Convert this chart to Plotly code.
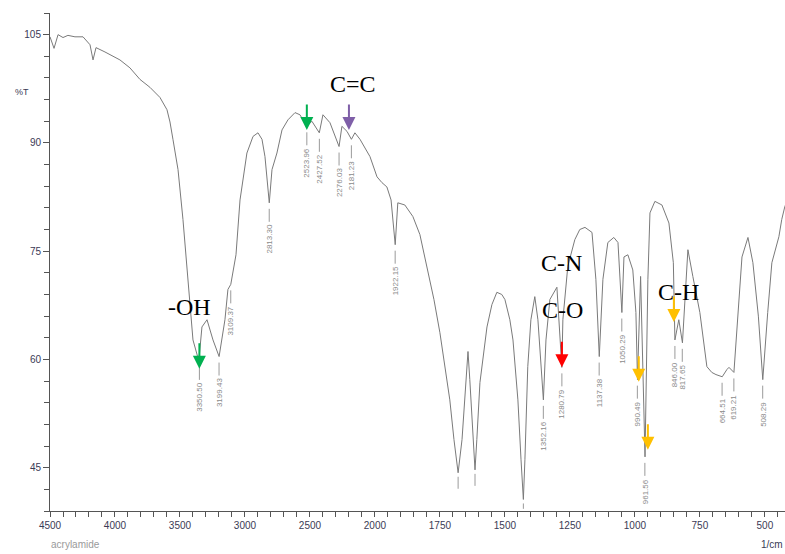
import numpy as np
import plotly.graph_objects as go

# ---------------- data ----------------
wavenumber = [4500, 4469, 4438, 4400, 4362, 4308, 4246, 4192, 4169, 4146, 4077, 3962, 3885, 3808,
              3731, 3654, 3600, 3577, 3554, 3515, 3477, 3446, 3423, 3400, 3355, 3331, 3292, 3246,
              3199, 3154, 3131, 3109, 3069, 3038, 2985, 2938, 2900, 2869, 2846, 2813, 2792, 2754,
              2715, 2669, 2615, 2577, 2524, 2485, 2428, 2400, 2346, 2276, 2254, 2215, 2181, 2154,
              2115, 2038, 1992, 1973, 1954, 1938, 1922, 1912, 1885, 1854, 1827, 1800, 1773, 1750,
              1731, 1712, 1696, 1680, 1665, 1654, 1642, 1635, 1627, 1615, 1608, 1596, 1569, 1550,
              1531, 1512, 1500, 1481, 1469, 1450, 1438, 1429, 1423, 1412, 1400, 1385, 1373, 1352,
              1342, 1327, 1300, 1292, 1281, 1277, 1258, 1231, 1212, 1192, 1165, 1150, 1137, 1123,
              1104, 1081, 1065, 1050, 1042, 1027, 1008, 996, 990, 978, 961, 950, 942, 923, 896,
              869, 852, 846, 831, 817, 796, 777, 750, 723, 704, 688, 664, 646, 638, 619, 604, 588,
              565, 546, 525, 508, 489, 473, 446, 435, 423, 412]
transmittance = [104.7, 103.1, 105.0, 104.6, 104.9, 104.7, 104.7, 103.6, 101.5, 103.2, 102.6, 101.5,
                 100.4, 98.8, 97.7, 96.3, 94.6, 92.9, 90.5, 86.3, 79.4, 72.4, 66.9, 62.7, 59.8,
                 64.5, 65.5, 62.7, 60.4, 65.5, 69.7, 70.4, 74.5, 82.1, 88.6, 90.9, 91.4, 90.5,
                 88.1, 81.7, 86.3, 88.6, 91.8, 93.2, 94.2, 93.9, 92.3, 93.0, 91.4, 93.9, 92.8,
                 89.5, 92.3, 91.6, 90.5, 91.4, 90.5, 88.1, 85.3, 84.5, 83.9, 82.1, 75.9, 81.7,
                 81.4, 79.8, 77.3, 72.9, 68.3, 63.7, 59.3, 54.4, 48.9, 44.3, 48.9, 54.4, 61.1,
                 57.2, 52.1, 44.7, 48.9, 56.8, 64.5, 67.6, 69.3, 69.0, 68.3, 65.5, 62.7, 54.4,
                 46.1, 40.6, 46.1, 59.0, 65.5, 68.7, 65.5, 54.4, 62.7, 68.3, 70.0, 65.5, 58.9,
                 65.5, 72.9, 76.6, 78.0, 78.3, 77.6, 71.1, 60.4, 71.1, 76.2, 76.9, 76.2, 66.5,
                 74.2, 74.5, 72.4, 66.5, 57.2, 71.5, 46.5, 71.1, 80.3, 81.9, 81.4, 78.9, 73.4,
                 62.7, 65.5, 62.3, 75.2, 71.5, 66.5, 59.0, 58.2, 57.9, 57.6, 58.6, 58.9, 58.2,
                 65.5, 74.2, 76.9, 73.4, 66.0, 57.2, 66.5, 73.4, 77.0, 79.4, 81.2, 82.1]

peak_wn = [3350.50, 3199.43, 3109.37, 2813.30, 2523.96, 2427.52, 2276.03, 2181.23, 1922.15,
           1352.16, 1280.79, 1137.38, 1050.29, 990.49, 961.56, 846.00, 817.65, 664.51, 619.21, 508.29]
peak_T = [59.8, 60.4, 70.4, 81.7, 92.3, 91.4, 89.5, 90.5, 75.9,
          54.4, 58.9, 60.4, 66.5, 57.2, 46.5, 62.7, 62.3, 57.6, 58.2, 57.2]
peak_text = ["3350.50", "3199.43", "3109.37", "2813.30", "2523.96", "2427.52", "2276.03",
             "2181.23", "1922.15", "1352.16", "1280.79", "1137.38", "1050.29", "990.49",
             "961.56", "846.00", "817.65", "664.51", "619.21", "508.29"]
clipped_peak_wn = [1680, 1615, 1429]
clipped_peak_T = [44.3, 44.7, 40.6]

group_labels = ["-OH", "C=C", "C-N", "C-O", "C-H"]
group_wn = [3423, 2169, 1281, 1277, 834]
group_T = [67.2, 98.1, 73.4, 66.9, 69.4]

arrow_wn = [3350.50, 2523.96, 2200, 1280.79, 985, 950, 850]
arrow_T = [58.7, 91.8, 91.8, 58.9, 56.9, 47.5, 65.2]
arrow_color = ["#00b050", "#00b050", "#7f5fa8", "#ff0000", "#ffc000", "#ffc000", "#ffc000"]

x_tick_labels = [4500, 4000, 3500, 3000, 2500, 2000, 1750, 1500, 1250, 1000, 750, 500]
y_tick_vals = [45, 60, 75, 90, 105]


def to_u(wn):
    wn = np.asarray(wn, dtype=float)
    return np.where(wn >= 2000, (4500 - wn) / 500.0, 5 + (2000 - wn) / 250.0)


# ---------------- layout constants ----------------
W, H = 785, 554
ML, MR, MT, MB = 50, 0, 13, 43
YMIN, YMAX = 39, 108
XMAX_U = 11.31
PW, PH = W - ML - MR, H - MT - MB
ppu = PH / (YMAX - YMIN)  # px per %T unit

fig = go.Figure()
fig.add_trace(go.Scatter(x=to_u(wavenumber), y=transmittance, mode="lines",
                         line=dict(color="#7a7a7a", width=1), hoverinfo="skip",
                         showlegend=False))

shapes = []
annotations = []
lbl_color = "#8a8a8a"
gap, seg = 6, 13
for wn, t, txt in zip(peak_wn, peak_T, peak_text):
    u = float(to_u(wn))
    shapes.append(dict(type="line", xref="x", yref="y", x0=u, x1=u,
                       y0=t - gap / ppu, y1=t - (gap + seg) / ppu,
                       line=dict(color="#9a9a9a", width=1)))
    annotations.append(dict(x=u, y=t - (gap + seg + 1) / ppu, xref="x", yref="y",
                            text=txt, showarrow=False, textangle=-90,
                            xanchor="center", yanchor="top",
                            font=dict(size=8, color=lbl_color, family="Liberation Sans")))
for wn, t in zip(clipped_peak_wn, clipped_peak_T):
    u = float(to_u(wn))
    shapes.append(dict(type="line", xref="x", yref="y", x0=u, x1=u,
                       y0=t - 4 / ppu, y1=max(YMIN + 0.3, t - 16 / ppu),
                       line=dict(color="#9a9a9a", width=1)))

for lab, wn, t in zip(group_labels, group_wn, group_T):
    annotations.append(dict(x=float(to_u(wn)), y=t, xref="x", yref="y", text=lab,
                            showarrow=False, xanchor="center", yanchor="middle",
                            font=dict(size=24, color="black", family="Liberation Serif")))

for wn, t, c in zip(arrow_wn, arrow_T, arrow_color):
    annotations.append(dict(x=float(to_u(wn)), y=t, xref="x", yref="y", text="",
                            showarrow=True, ax=0, ay=-27, arrowcolor=c, arrowwidth=2,
                            arrowhead=2, arrowsize=1.3))

annotations.append(dict(x=-28 / PW, y=97.1, xref="paper", yref="y", text="%T",
                        showarrow=False, xanchor="center", yanchor="middle",
                        font=dict(size=9, color="#3a3a55", family="Liberation Sans")))
annotations.append(dict(x=25 / PW, y=-33 / PH, xref="paper", yref="paper",
                        text="acrylamide", showarrow=False, xanchor="center", yanchor="middle",
                        font=dict(size=10, color="#9a9a9a", family="Liberation Sans")))
annotations.append(dict(x=1.0, y=-33 / PH, xref="paper", yref="paper",
                        text="1/cm", showarrow=False, xanchor="right", yanchor="middle",
                        font=dict(size=10, color="#3a3a55", family="Liberation Sans")))

fig.update_layout(
    width=W, height=H,
    margin=dict(l=ML, r=MR, t=MT, b=MB),
    paper_bgcolor="white", plot_bgcolor="white",
    shapes=shapes, annotations=annotations,
    xaxis=dict(range=[0, XMAX_U], showgrid=False, zeroline=False,
               showline=True, linecolor="#555555", linewidth=1,
               tickmode="array", tickvals=list(to_u(x_tick_labels)),
               ticktext=[str(v) for v in x_tick_labels],
               ticks="outside", ticklen=5, tickcolor="#555555",
               tickfont=dict(size=10, color="#3a3a55", family="Liberation Sans"),
               minor=dict(dtick=0.2, tick0=0, ticks="outside", ticklen=5,
                          tickcolor="#555555", showgrid=False)),
    yaxis=dict(range=[YMIN, YMAX], showgrid=False, zeroline=False,
               showline=True, linecolor="#555555", linewidth=1,
               tickmode="array", tickvals=y_tick_vals,
               ticks="outside", ticklen=6, tickcolor="#555555",
               tickfont=dict(size=10, color="#3a3a55", family="Liberation Sans"),
               minor=dict(dtick=3, tick0=0, ticks="outside", ticklen=5,
                          tickcolor="#555555", showgrid=False)),
)

fig.write_html("out.html", config={"displayModeBar": False},
               post_script="document.body.style.margin='0';document.body.style.overflow='hidden';")
